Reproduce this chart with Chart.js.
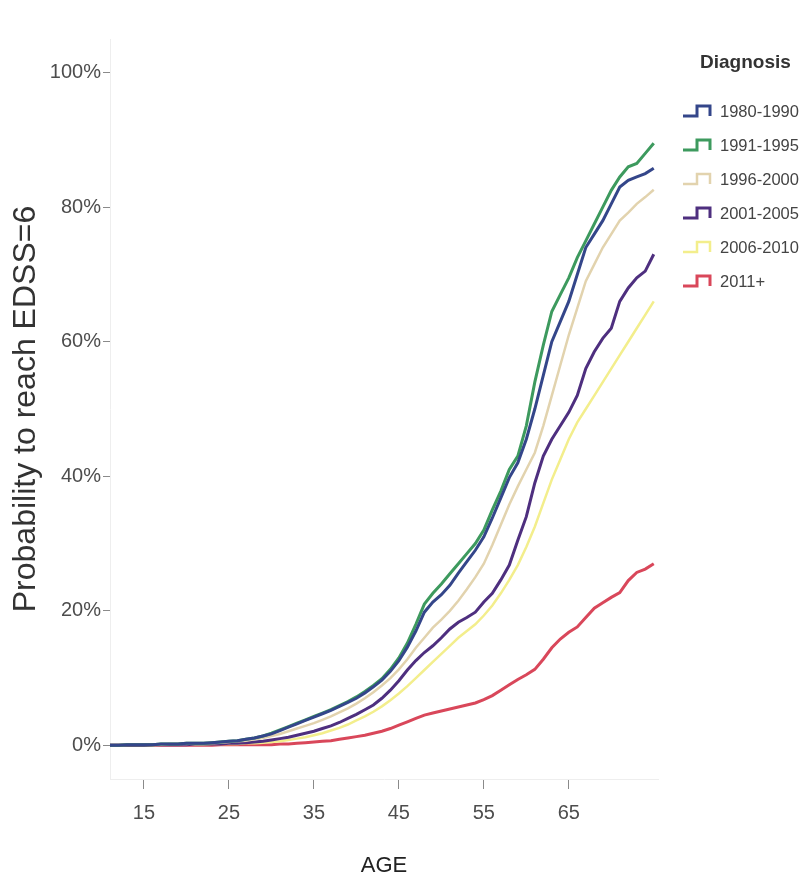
<!DOCTYPE html>
<html>
<head>
<meta charset="utf-8">
<title>Probability to reach EDSS=6 by age</title>
<script src="https://cdn.jsdelivr.net/npm/chart.js@4.4.1/dist/chart.umd.min.js"></script>
<style>
  html, body { margin: 0; padding: 0; background: #fff; }
  #wrap { position: relative; width: 811px; height: 883px; }
  #legend { position: absolute; left: 680px; top: 48px; font-family: 'Liberation Sans', Arial, sans-serif; }
  #legend .ttl { position: absolute; left: 20px; top: 2px; font-size: 19px; font-weight: bold; color: #333; white-space: nowrap; line-height: 24px; }
  #legend .item { position: absolute; left: 0; height: 20px; white-space: nowrap; }
  #legend .item svg { position: absolute; left: 2px; top: 2px; }
  #legend .item span { position: absolute; left: 40px; top: 1px; font-size: 16.5px; line-height: 18px; color: #444; }
</style>
</head>
<body>
<div id="wrap">
  <canvas id="chart" width="811" height="883"></canvas>
  <div id="legend"></div>
</div>
<script>
// ages (x) and cumulative probability (%) per diagnosis period
const ages = [11,12,13,14,15,16,17,18,19,20,21,22,23,24,25,26,27,28,29,30,
              31,32,33,34,35,36,37,38,39,40,41,42,43,44,45,46,47,48,49,50,
              51,52,53,54,55,56,57,58,59,60,61,62,63,64,65,66,67,68,69,70,
              71,72,73,74,75];

const diag1980 = [0,0,0.1,0.1,0.1,0.1,0.2,0.2,0.2,0.3,0.3,0.3,0.4,0.5,0.6,0.7,0.9,1.1,1.4,1.7,
                  2.2,2.7,3.2,3.7,4.2,4.7,5.2,5.8,6.4,7.0,7.8,8.7,9.7,11.0,12.6,14.6,17.0,19.8,21.3,22.4,
                  23.8,25.6,27.3,29.0,31.0,33.8,36.8,39.8,42.0,45.5,50.0,55.0,60.0,63.0,66.0,70.0,74.0,76.0,78.0,80.5,
                  83.0,84.0,84.5,85.0,85.8];
const diag1991 = [0,0,0.1,0.1,0.1,0.1,0.2,0.2,0.2,0.3,0.3,0.3,0.4,0.5,0.6,0.7,0.9,1.1,1.4,1.8,
                  2.3,2.8,3.3,3.8,4.3,4.8,5.3,5.9,6.5,7.2,8.0,8.9,9.9,11.3,13.0,15.2,18.0,21.0,22.6,24.0,
                  25.5,27.0,28.5,30.0,32.0,35.0,37.8,41.0,43.0,47.5,54.0,59.5,64.5,67.0,69.5,72.5,75.0,77.5,80.0,82.5,
                  84.5,86.0,86.5,88.0,89.5];
const diag1996 = [0,0,0.1,0.1,0.1,0.1,0.1,0.2,0.2,0.2,0.3,0.3,0.3,0.4,0.5,0.6,0.7,0.9,1.1,1.4,
                  1.7,2.1,2.5,2.9,3.3,3.8,4.3,4.9,5.5,6.2,7.0,7.9,8.9,10.0,11.3,12.8,14.5,16.0,17.5,18.7,
                  20.0,21.5,23.2,25.0,27.0,29.8,32.8,35.8,38.5,41.0,43.5,47.5,52.0,56.5,61.0,65.0,69.0,71.5,74.0,76.0,
                  78.0,79.2,80.5,81.5,82.6];
const diag2001 = [0,0,0,0,0,0.1,0.1,0.1,0.1,0.1,0.2,0.2,0.2,0.2,0.3,0.3,0.4,0.5,0.6,0.8,
                  1.0,1.2,1.5,1.8,2.1,2.5,2.9,3.4,4.0,4.6,5.3,6.0,7.0,8.2,9.6,11.2,12.6,13.8,14.8,16.0,
                  17.3,18.3,19.0,19.8,21.3,22.6,24.6,26.8,30.5,34.0,39.0,43.0,45.5,47.5,49.5,52.0,56.0,58.5,60.5,62.0,
                  66.0,68.0,69.5,70.5,73.0];
const diag2006 = [0,0,0,0,0,0,0.1,0.1,0.1,0.1,0.1,0.1,0.2,0.2,0.2,0.2,0.3,0.3,0.4,0.5,
                  0.6,0.8,1.0,1.2,1.5,1.8,2.2,2.6,3.1,3.7,4.3,5.0,5.8,6.7,7.7,8.8,10.0,11.2,12.4,13.6,
                  14.8,16.0,17.0,18.0,19.3,20.8,22.6,24.6,26.8,29.5,32.5,36.0,39.5,42.5,45.5,48.0,50.0,52.0,54.0,56.0,
                  58.0,60.0,62.0,64.0,66.0];
const diag2011 = [0,0,0,0,0,0,0,0,0,0,0,0,0,0.1,0.1,0.1,0.1,0.1,0.1,0.1,
                  0.2,0.2,0.3,0.4,0.5,0.6,0.7,0.9,1.1,1.3,1.5,1.8,2.1,2.5,3.0,3.5,4.0,4.5,4.8,5.1,
                  5.4,5.7,6.0,6.3,6.8,7.4,8.2,9.0,9.8,10.5,11.3,12.8,14.5,15.8,16.8,17.6,19.0,20.4,21.2,22.0,
                  22.7,24.5,25.7,26.2,27.0];

const seriesNames = ['1980-1990', '1991-1995', '1996-2000', '2001-2005', '2006-2010', '2011+'];
const seriesData = [diag1980, diag1991, diag1996, diag2001, diag2006, diag2011];
const seriesColors = ['#34468a', '#3d9a5e', '#e2d3ae', '#4e2f7f', '#f3ee8c', '#d9475a'];
const seriesWidths = [3, 3, 2.5, 3, 2.5, 3];

const xTicks = [15, 25, 35, 45, 55, 65];
const yTicks = [0, 20, 40, 60, 80, 100];

const sans = "'Liberation Sans', Arial, sans-serif";

const datasets = seriesNames.map((name, i) => ({
    label: name,
    data: ages.map((a, j) => ({ x: a, y: seriesData[i][j] })),
    borderColor: seriesColors[i],
    backgroundColor: seriesColors[i],
    borderWidth: seriesWidths[i],
    pointRadius: 0,
    tension: 0,
    fill: false
}));

const chart = new Chart(document.getElementById('chart'), {
    type: 'line',
    data: { datasets: datasets },
    options: {
        responsive: false,
        animation: false,
        devicePixelRatio: 1,
        layout: { padding: { left: 0, right: 153, top: 39, bottom: 0 } },
        plugins: {
            legend: { display: false },
            tooltip: { enabled: false }
        },
        scales: {
            x: {
                type: 'linear',
                min: 11,
                max: 75.5,
                afterBuildTicks: (scale) => { scale.ticks = xTicks.map(v => ({ value: v })); },
                afterFit: (scale) => { scale.height = 104; },
                ticks: {
                    autoSkip: false,
                    maxRotation: 0,
                    padding: 12,
                    color: '#4d4d4d',
                    font: { family: sans, size: 20 }
                },
                grid: {
                    drawOnChartArea: false,
                    drawTicks: true,
                    tickLength: 10,
                    tickColor: '#8a8a8a'
                },
                border: { color: '#eeeeee' },
                title: {
                    display: true,
                    text: 'AGE',
                    color: '#222',
                    font: { family: sans, size: 22 },
                    padding: { top: 0, bottom: 4 }
                }
            },
            y: {
                min: -5,
                max: 105,
                afterBuildTicks: (scale) => { scale.ticks = yTicks.map(v => ({ value: v })); },
                afterFit: (scale) => { scale.width = 110; },
                ticks: {
                    padding: 2,
                    color: '#4d4d4d',
                    font: { family: sans, size: 20 },
                    callback: (v) => v + '%'
                },
                grid: {
                    drawOnChartArea: false,
                    drawTicks: true,
                    tickLength: 7,
                    tickColor: '#8a8a8a'
                },
                border: { color: '#eeeeee' },
                title: {
                    display: true,
                    text: 'Probability to reach EDSS=6',
                    color: '#333',
                    font: { family: sans, size: 32 },
                    padding: { top: 7, bottom: 0 }
                }
            }
        }
    }
});

// html legend with step-shaped keys
function buildLegend(chart) {
    const box = document.getElementById('legend');
    box.innerHTML = '<div class="ttl">Diagnosis</div>';
    chart.data.datasets.forEach((ds, i) => {
        const item = document.createElement('div');
        item.className = 'item';
        item.style.top = (53 + i * 34) + 'px';
        item.innerHTML =
            '<svg width="36" height="16"><path d="M1 13 H15 V3 H28 V13" fill="none" stroke="' +
            ds.borderColor + '" stroke-width="' + ds.borderWidth + '"/></svg>' +
            '<span>' + ds.label + '</span>';
        box.appendChild(item);
    });
}
buildLegend(chart);
</script>
</body>
</html>
